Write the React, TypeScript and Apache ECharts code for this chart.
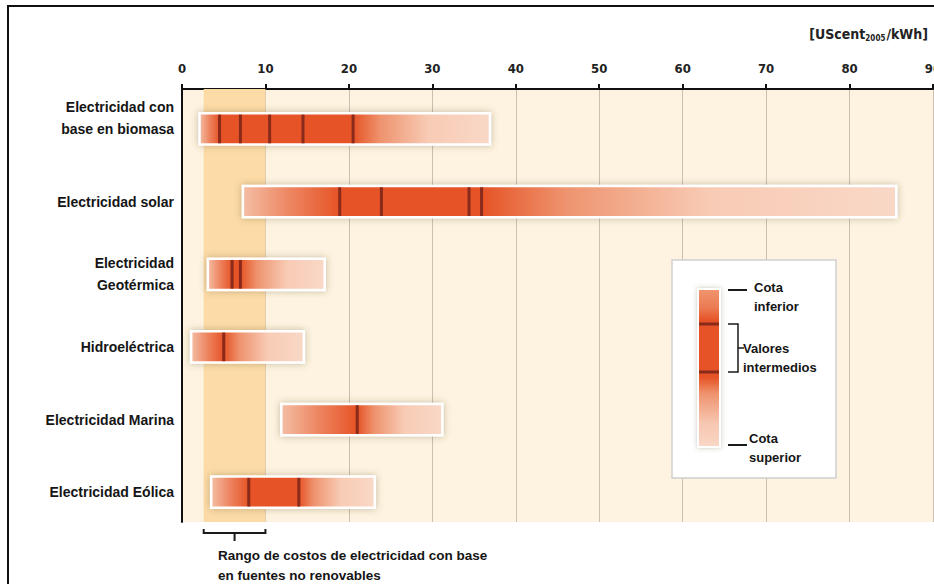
import React, { useEffect, useRef } from 'react';
import * as echarts from 'echarts';

const categories = [
  'Electricidad con\nbase en biomasa',
  'Electricidad solar',
  'Electricidad\nGeotérmica',
  'Hidroeléctrica',
  'Electricidad Marina',
  'Electricidad Eólica',
];
const lowerBounds = [2.1, 7.3, 3.1, 1.1, 11.9, 3.5];
const upperBounds = [36.9, 85.6, 17.1, 14.6, 31.2, 23.1];
const intermediateValues = [
  [4.5, 7.0, 10.5, 14.5, 20.5],
  [18.9, 23.9, 34.4, 35.9],
  [6.0, 7.0],
  [5.0],
  [21.0],
  [8.0, 14.0],
];
const nonRenewableRange = [2.6, 10];
const xMin = 0;
const xMax = 90;
const xInterval = 10;
const unitLabel = ['[UScent', '2005', '/kWh]'];
const noteText = 'Rango de costos de electricidad con base\nen fuentes no renovables';
const legendTexts = ['Cota\ninferior', 'Valores\nintermedios', 'Cota\nsuperior'];

const SOLID = '#E65325';
const DARK = '#8A2A1B';
const LABEL_FONT = "'Liberation Sans', Arial, sans-serif";
const NARROW_FONT = "'Liberation Sans Narrow', 'DejaVu Sans Condensed', sans-serif";
// small vertical nudges of the category labels (in row units), styling only
const labelNudge = [-0.15, 0, 0, 0, 0, 0];

export default function App() {
  const ref = useRef<HTMLDivElement>(null);

  useEffect(() => {
    if (!ref.current) return;
    const chart = echarts.init(ref.current, undefined, { renderer: 'svg' });

    const option: any = {
      animation: false,
      grid: {
        left: 182,
        top: 89,
        right: 1,
        bottom: 62,
        show: true,
        containLabel: false,
        outerBoundsMode: 'none',
        backgroundColor: '#FDF3E0',
        borderWidth: 0,
      },
      xAxis: {
        type: 'value',
        position: 'top',
        min: xMin,
        max: xMax,
        interval: xInterval,
        axisLine: { show: true, onZero: false, lineStyle: { color: '#111', width: 2 } },
        axisTick: { show: true, length: 5, lineStyle: { color: '#111', width: 2 } },
        axisLabel: {
          margin: 14,
          color: '#222',
          fontSize: 13,
          fontWeight: 'bold',
          fontFamily: NARROW_FONT,
        },
        splitLine: { show: true, lineStyle: { color: '#C9C0B2', width: 1 } },
      },
      yAxis: {
        type: 'value',
        inverse: true,
        min: -0.55,
        max: 5.41,
        axisLine: { show: true, onZero: false, lineStyle: { color: '#111', width: 2 } },
        axisTick: { show: false },
        splitLine: { show: false },
        axisLabel: {
          customValues: categories.map((_, i) => i + labelNudge[i]),
          formatter: (v: number) => categories[Math.round(v)] ?? '',
          margin: 8,
          color: '#151515',
          fontSize: 14,
          fontWeight: 'bold',
          fontFamily: LABEL_FONT,
          lineHeight: 22,
          padding: [6, 0, 0, 0],
        },
      },
      series: [
        {
          type: 'custom',
          z: 1,
          silent: true,
          data: [nonRenewableRange],
          renderItem: (params: any, api: any) => {
            const x0 = api.coord([api.value(0), 0])[0];
            const x1 = api.coord([api.value(1), 0])[0];
            const cs = params.coordSys;
            return {
              type: 'rect',
              shape: { x: x0, y: cs.y, width: x1 - x0, height: cs.height },
              style: { fill: '#FCDBA7' },
            };
          },
        },
        {
          type: 'custom',
          z: 3,
          data: categories.map((_, i) => [lowerBounds[i], upperBounds[i], i]),
          renderItem: (params: any, api: any) => {
            const i = params.dataIndex;
            const lo = lowerBounds[i];
            const hi = upperBounds[i];
            const mids = intermediateValues[i];
            const p0 = api.coord([lo, i]);
            const p1 = api.coord([hi, i]);
            const yc = p0[1];
            const h = api.size([0, 1])[1] * 0.43;
            const w = p1[0] - p0[0];
            const first = mids[0];
            const last = mids[mids.length - 1];
            const off = (v: number) => Math.max(0, Math.min(1, (v - lo) / (hi - lo)));
            const fadeEnd = last + 0.55 * (hi - last);
            const fill = {
              type: 'linear',
              x: 0,
              y: 0,
              x2: 1,
              y2: 0,
              colorStops: [
                { offset: 0, color: '#F4BEA4' },
                { offset: off(lo + 0.5 * (first - lo)), color: '#ED8460' },
                { offset: off(first), color: SOLID },
                { offset: off(last), color: SOLID },
                { offset: off(last + 0.2 * (hi - last)), color: '#EE936E' },
                { offset: off(fadeEnd), color: '#F8CBB5' },
                { offset: 1, color: '#F9D8C7' },
              ],
            };
            const children: any[] = [
              {
                type: 'rect',
                shape: { x: p0[0], y: yc - h / 2, width: w, height: h },
                style: {
                  fill,
                  stroke: '#FFFFFF',
                  lineWidth: 2.5,
                  shadowBlur: 7,
                  shadowColor: 'rgba(90,70,40,0.35)',
                },
              },
            ];
            mids.forEach((m) => {
              const x = api.coord([m, i])[0];
              children.push({
                type: 'line',
                shape: { x1: x, y1: yc - h / 2 + 1.3, x2: x, y2: yc + h / 2 - 1.3 },
                style: { stroke: DARK, lineWidth: 3 },
              });
            });
            return { type: 'group', children };
          },
        },
      ],
    };
    chart.setOption(option);

    const bx0 = chart.convertToPixel({ xAxisIndex: 0 }, nonRenewableRange[0]) as number;
    const bx1 = chart.convertToPixel({ xAxisIndex: 0 }, nonRenewableRange[1]) as number;
    const bmid = (bx0 + bx1) / 2;
    const gridBottom = 584 - 62;

    const lineStyle = { stroke: '#1a1a1a', lineWidth: 2 };
    const legendTextStyle = {
      fontSize: 13,
      fontWeight: 'bold',
      fontFamily: LABEL_FONT,
      fill: '#151515',
      lineHeight: 19,
      verticalAlign: 'middle',
      align: 'left',
    };

    const graphic: any[] = [
      {
        type: 'rect',
        silent: true,
        z: 100,
        shape: { x: 8, y: 6, width: 1000, height: 700 },
        style: { fill: 'none', stroke: '#111', lineWidth: 2 },
      },
      {
        type: 'text',
        z: 100,
        style: {
          x: 928,
          y: 34,
          align: 'right',
          verticalAlign: 'middle',
          text: `{a|${unitLabel[0]}}{s|${unitLabel[1]}}{a|${unitLabel[2]}}`,
          rich: {
            a: { fontSize: 14, fontWeight: 'bold', fontFamily: NARROW_FONT, fill: '#222', lineHeight: 18 },
            s: {
              fontSize: 8,
              fontWeight: 'bold',
              fontFamily: NARROW_FONT,
              fill: '#222',
              lineHeight: 18,
              padding: [9, 1, 0, 0],
            },
          },
        },
      },
      {
        type: 'polyline',
        z: 100,
        shape: {
          points: [
            [bx0, gridBottom + 7],
            [bx0, gridBottom + 11],
            [bx1, gridBottom + 11],
            [bx1, gridBottom + 7],
          ],
        },
        style: { ...lineStyle, fill: 'none' },
      },
      {
        type: 'line',
        z: 100,
        shape: { x1: bmid, y1: gridBottom + 11, x2: bmid, y2: gridBottom + 19 },
        style: lineStyle,
      },
      {
        type: 'text',
        z: 100,
        style: {
          x: 218,
          y: 565,
          text: noteText,
          fontSize: 13.5,
          fontWeight: 'bold',
          fontFamily: LABEL_FONT,
          fill: '#151515',
          lineHeight: 20,
          align: 'left',
          verticalAlign: 'middle',
        },
      },
      {
        type: 'rect',
        z: 100,
        shape: { x: 672, y: 260, width: 164, height: 218 },
        style: { fill: '#FFFFFF', stroke: '#CFCFCF', lineWidth: 1.5 },
      },
      {
        type: 'rect',
        z: 101,
        shape: { x: 698, y: 289, width: 22, height: 158 },
        style: {
          stroke: '#FFFFFF',
          lineWidth: 2,
          shadowBlur: 5,
          shadowColor: 'rgba(90,70,40,0.3)',
          fill: {
            type: 'linear',
            x: 0,
            y: 0,
            x2: 0,
            y2: 1,
            colorStops: [
              { offset: 0, color: '#F09670' },
              { offset: 0.12, color: '#EB7A52' },
              { offset: 0.2, color: SOLID },
              { offset: 0.56, color: SOLID },
              { offset: 0.66, color: '#EE926D' },
              { offset: 0.85, color: '#F7C7B1' },
              { offset: 1, color: '#F9D7C6' },
            ],
          },
        },
      },
      {
        type: 'line',
        z: 102,
        shape: { x1: 699, y1: 324, x2: 719, y2: 324 },
        style: { stroke: DARK, lineWidth: 3 },
      },
      {
        type: 'line',
        z: 102,
        shape: { x1: 699, y1: 372, x2: 719, y2: 372 },
        style: { stroke: DARK, lineWidth: 3 },
      },
      {
        type: 'line',
        z: 102,
        shape: { x1: 728, y1: 290, x2: 747, y2: 290 },
        style: lineStyle,
      },
      {
        type: 'polyline',
        z: 102,
        shape: { points: [[728, 324], [738, 324], [738, 372], [728, 372]] },
        style: { ...lineStyle, fill: 'none', lineWidth: 1.5 },
      },
      {
        type: 'line',
        z: 102,
        shape: { x1: 738, y1: 348, x2: 744, y2: 348 },
        style: { ...lineStyle, lineWidth: 1.5 },
      },
      {
        type: 'line',
        z: 102,
        shape: { x1: 728, y1: 445, x2: 747, y2: 445 },
        style: lineStyle,
      },
      {
        type: 'text',
        z: 102,
        style: { ...legendTextStyle, x: 754, y: 296.5, text: legendTexts[0] },
      },
      {
        type: 'text',
        z: 102,
        style: { ...legendTextStyle, x: 743, y: 357.5, text: legendTexts[1] },
      },
      {
        type: 'text',
        z: 102,
        style: { ...legendTextStyle, x: 749, y: 447.5, text: legendTexts[2] },
      },
    ];
    chart.setOption({ graphic });

    return () => chart.dispose();
  }, []);

  return (
    <div
      ref={ref}
      style={{ position: 'fixed', left: 0, top: 0, width: 934, height: 584, background: '#FFFFFF' }}
    />
  );
}
